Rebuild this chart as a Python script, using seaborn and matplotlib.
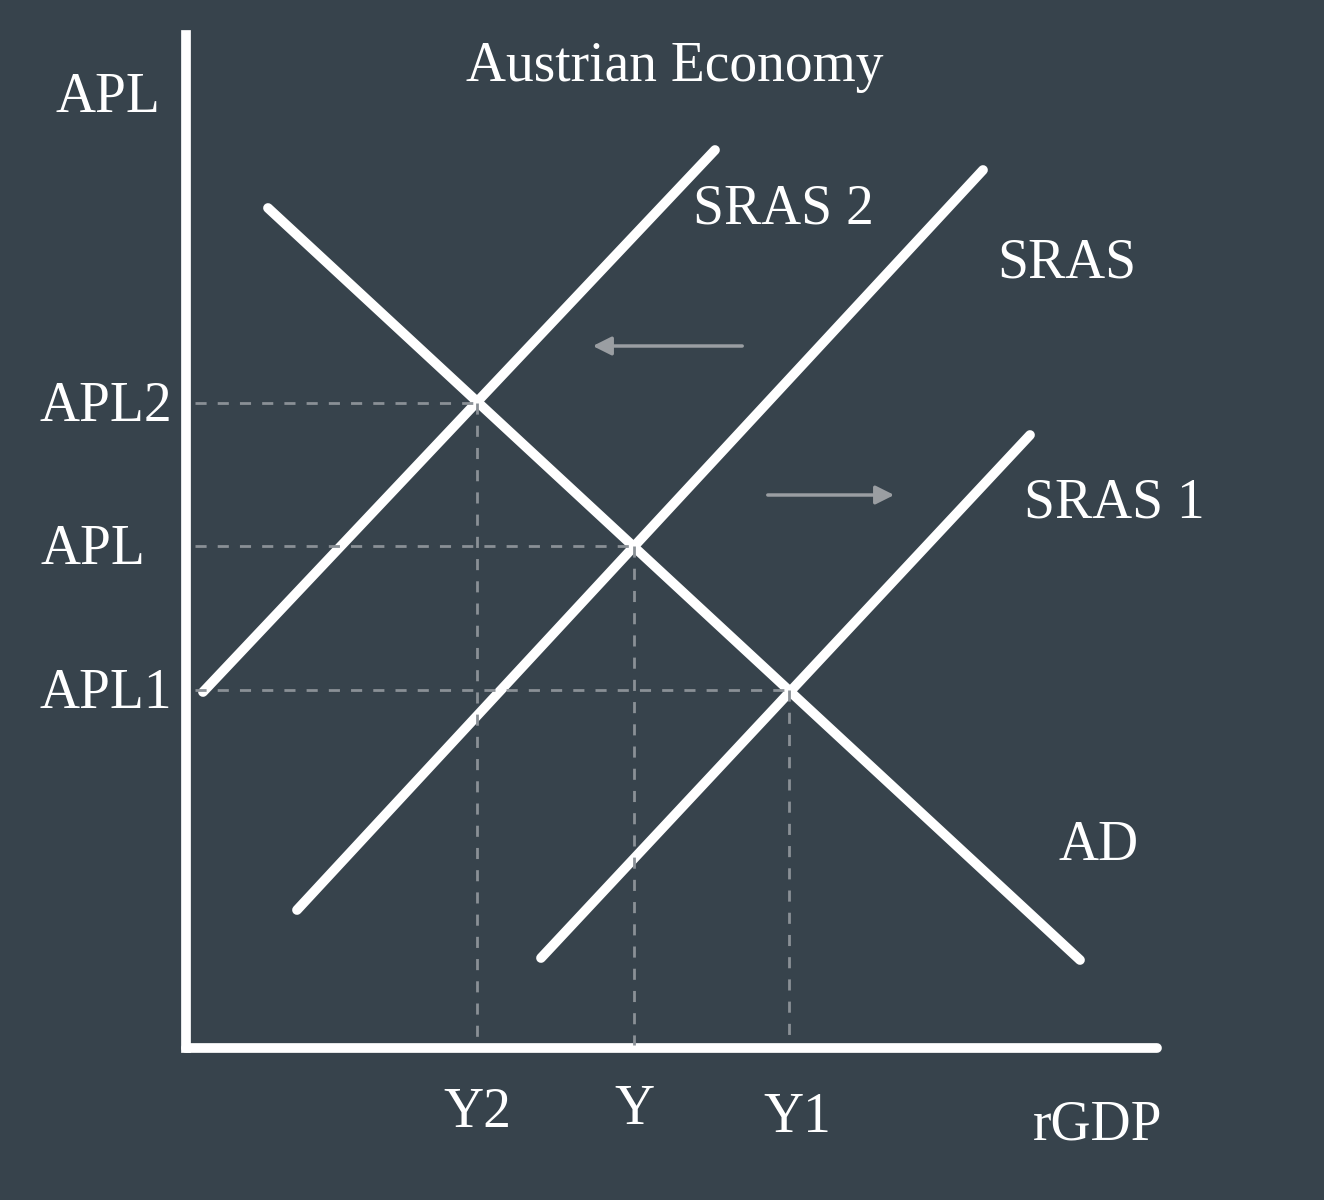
import matplotlib
matplotlib.use("Agg")
import matplotlib.pyplot as plt
import seaborn as sns
import pandas as pd

BG = "#37434c"
sns.set_style("dark")
plt.rcParams['font.family'] = ['Liberation Serif', 'DejaVu Serif']

# curve endpoints (x, y in image-like coordinates)
curve_names = ["SRAS 2", "SRAS", "SRAS 1", "AD"]
curve_x0 = [203, 297, 541, 268]
curve_y0 = [692, 910, 958, 208]
curve_x1 = [715, 983, 1030, 1080]
curve_y1 = [150, 170, 435, 960]

# equilibria
eq_labels_y = ["APL2", "APL", "APL1"]
eq_labels_x = ["Y2", "Y", "Y1"]
eq_x = [477, 634, 789]
eq_y = [403, 546, 690]

rows = []
for n, a, b, c, d in zip(curve_names, curve_x0, curve_y0, curve_x1, curve_y1):
    rows += [dict(curve=n, x=a, y=b), dict(curve=n, x=c, y=d)]
df = pd.DataFrame(rows)

fig = plt.figure(figsize=(13.24, 12), dpi=100, facecolor=BG)
ax = fig.add_axes([0, 0, 1, 1])
ax.set_facecolor(BG)
ax.set_xlim(0, 1324)
ax.set_ylim(1200, 0)
ax.axis("off")

sns.lineplot(data=df, x="x", y="y", units="curve", estimator=None,
             color="white", lw=7, ax=ax, sort=False)

# axes
ax.plot([186, 186], [35, 1048], color="white", lw=7, solid_capstyle="projecting")
ax.plot([186, 1157], [1048, 1048], color="white", lw=7)

for x, y in zip(eq_x, eq_y):
    ax.plot([195, x], [y, y], color="#8a9096", lw=2, ls=(0, (4, 4)))
    ax.plot([x, x], [y, 1045], color="#8a9096", lw=2, ls=(0, (4, 4)))

ax.annotate("", xy=(590, 346), xytext=(745, 346),
            arrowprops=dict(arrowstyle="-|>", color="#9a9ea2", lw=2.5, mutation_scale=28))
ax.annotate("", xy=(897, 495), xytext=(765, 495),
            arrowprops=dict(arrowstyle="-|>", color="#9a9ea2", lw=2.5, mutation_scale=28))

tk = dict(color="white", fontsize=40, va="center")
ax.text(675, 67, "Austrian Economy", ha="center", **tk)
ax.text(108, 98, "APL", ha="center", **tk)
for lab, y in zip(eq_labels_y, eq_y):
    ax.text(172 if lab != "APL" else 145, y + 4, lab, ha="right", **tk)
for lab, x in zip(eq_labels_x, eq_x):
    ax.text(x + (0 if lab != "Y1" else 8), 1113 if lab == "Y2" else (1110 if lab == "Y" else 1118),
            lab, ha="center", **tk)
ax.text(1098, 1125, "rGDP", ha="center", **tk)
ax.text(783, 210, "SRAS 2", ha="center", **tk)
ax.text(1067, 264, "SRAS", ha="center", **tk)
ax.text(1114, 503, "SRAS 1", ha="center", **tk)
ax.text(1099, 846, "AD", ha="center", **tk)

fig.savefig("out.png", dpi=100, facecolor=BG)
